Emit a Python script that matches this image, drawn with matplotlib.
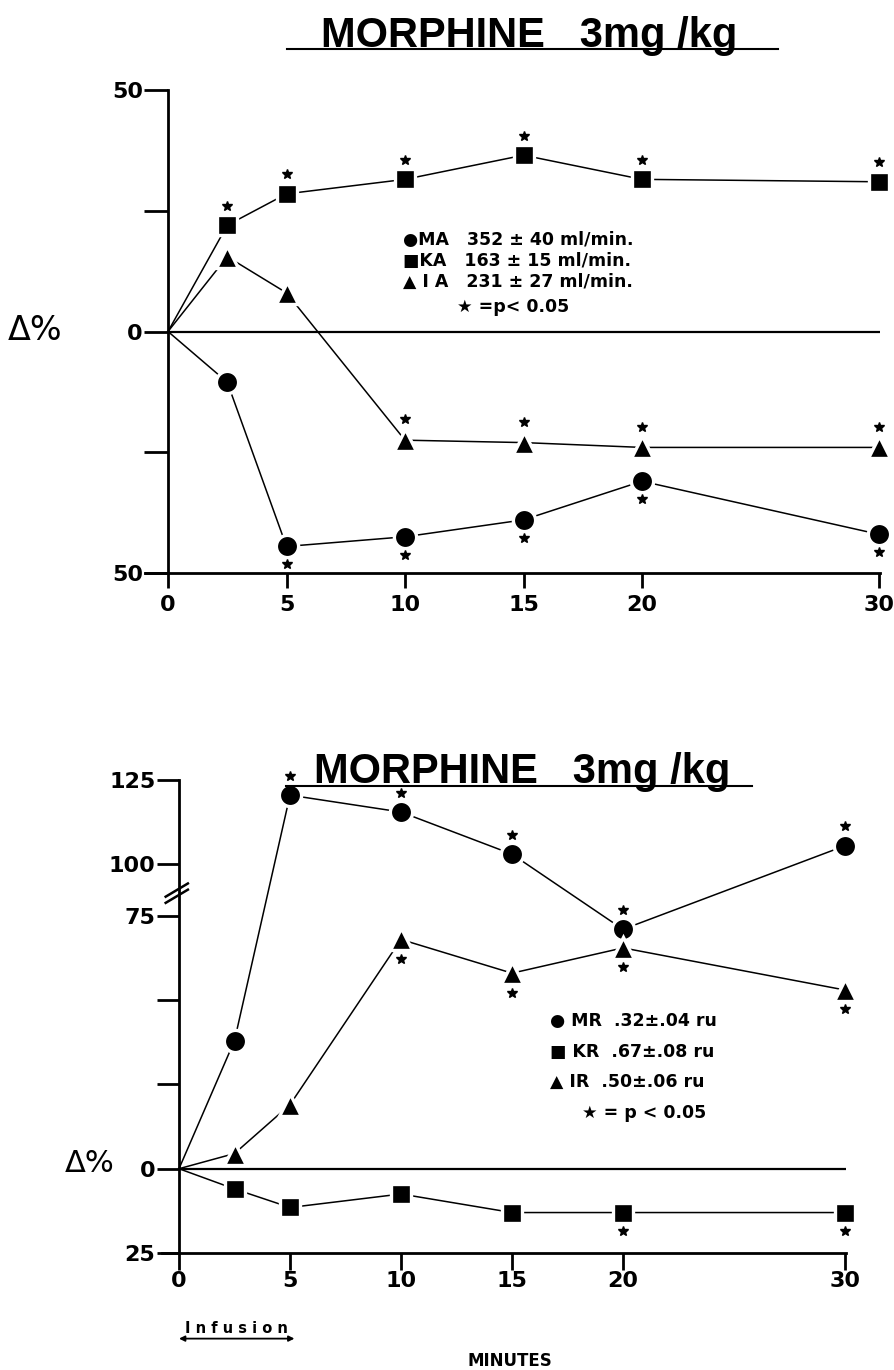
import numpy as np
import matplotlib
matplotlib.use("Agg")
import matplotlib.pyplot as plt
from matplotlib.transforms import offset_copy
from matplotlib.lines import Line2D

plt.rcParams['font.family'] = ['DejaVu Sans']
plt.rcParams['font.weight'] = 'bold'

# ---- data: top panel (arterial flow, % change) ----
t_top = [0, 2.5, 5, 10, 15, 20, 30]
ma_top = [0, -10.5, -44.5, -42.5, -39, -31, -42]
ka_top = [0, 22, 28.5, 31.5, 36.5, 31.5, 31]
ia_top = [0, 15.5, 8, -22.5, -23, -24, -24]
ma_star = [None, None, 'below', 'below', 'below', 'below', 'below']
ka_star = [None, 'above', 'above', 'above', 'above', 'above', 'above']
ia_star = [None, None, None, 'above', 'above', 'above', 'above']

top_legend = ["\u25cfMA   352 \u00b1 40 ml/min.",
              "\u25a0KA   163 \u00b1 15 ml/min.",
              "\u25b2 I A   231 \u00b1 27 ml/min."]

# ---- data: bottom panel (resistance, % change) ----
t_bot = [0, 2.5, 5, 10, 15, 20, 30]
mr_bot = [0, 38, 120.5, 115.5, 103, 71, 105.5]
kr_bot = [0, -6, -11.5, -7.5, -13, -13, -13]
ir_bot = [0, 4.5, 19, 68, 58, 65.5, 53]
mr_star = [None, None, 'above', 'above', 'above', 'above', 'above']
kr_star = [None, None, None, None, None, 'below', 'below']
ir_star = [None, None, None, 'below', 'below', 'below', 'below']

bot_legend = ["\u25cf MR  .32\u00b1.04 ru",
              "\u25a0 KR  .67\u00b1.08 ru",
              "\u25b2 IR  .50\u00b1.06 ru"]

x_ticks = [0, 5, 10, 15, 20, 30]
top_yticks = [-50, -25, 0, 25, 50]
top_ylabels = ['50', '', '0', '', '50']
bot_yticks = [-25, 0, 25, 50, 75, 100, 125]
bot_ylabels = ['25', '0', '', '', '75', '100', '125']

W, H = 894, 1370
fig = plt.figure(figsize=(W / 100, H / 100), dpi=100)


def fx(x):
    return x / W


def fy(y):
    return 1 - y / H


# broken y scale for the bottom panel: 75..100 squeezed
GAP = 15.3


def fwd(v):
    v = np.asarray(v, dtype=float)
    return np.where(v <= 75, v,
                    np.where(v < 100, 75 + (v - 75) * GAP / 25,
                             75 + GAP + (v - 100)))


def inv(u):
    u = np.asarray(u, dtype=float)
    return np.where(u <= 75, u,
                    np.where(u < 75 + GAP, 75 + (u - 75) * 25 / GAP,
                             100 + (u - 75 - GAP)))


def style_axes(ax, ylen, xlen, xpad):
    ax.spines['top'].set_visible(False)
    ax.spines['right'].set_visible(False)
    ax.spines['left'].set_position(('data', 0))
    ax.spines['left'].set_linewidth(2.0)
    ax.spines['bottom'].set_linewidth(2.0)
    ax.tick_params(axis='y', direction='out', length=ylen, width=2.0,
                   labelsize=16, pad=1)
    ax.tick_params(axis='x', direction='out', length=xlen, width=2.0,
                   labelsize=16, pad=xpad)
    ax.set_xticks(x_ticks)
    ax.set_xticklabels([str(v) for v in x_ticks], fontweight='bold')


def draw_series(ax, t, y, marker, ms, stars, dy):
    ax.plot(t, y, color='black', lw=1.1, marker=marker, ms=ms,
            mfc='black', mec='white', mew=2.4, markevery=slice(1, None),
            zorder=3, clip_on=False)
    up = offset_copy(ax.transData, fig=fig, y=dy, units='points')
    dn = offset_copy(ax.transData, fig=fig, y=-dy, units='points')
    for ti, yi, s in zip(t, y, stars):
        if s == 'above':
            ax.plot(ti, yi, marker='*', ms=7.5, color='black', transform=up,
                    zorder=4, clip_on=False)
        elif s == 'below':
            ax.plot(ti, yi, marker='*', ms=7.5, color='black', transform=dn,
                    zorder=4, clip_on=False)


# ================= top panel =================
x0, x30 = 168, 879
ppu = (x30 - x0) / 30
xl, xr = -0.97, 30.05
ax1 = fig.add_axes([fx(x0 + xl * ppu), fy(573), (xr - xl) * ppu / W, (573 - 90) / H])
ax1.set_xlim(xl, xr)
ax1.set_ylim(-50, 50)
style_axes(ax1, 17, 11, 5)
ax1.set_yticks(top_yticks)
ax1.set_yticklabels(top_ylabels, fontweight='bold')
ax1.plot([0, 30], [0, 0], color='black', lw=1.6, zorder=2)

draw_series(ax1, t_top, ka_top, 's', 14, ka_star, 14)
draw_series(ax1, t_top, ia_top, '^', 16, ia_star, 15)
draw_series(ax1, t_top, ma_top, 'o', 16, ma_star, 13)

for i, s in enumerate(top_legend):
    fig.text(fx(403), fy(240 + i * 21), s, fontsize=12.5, fontweight='bold',
             va='center', ha='left')
fig.text(fx(457), fy(307), "\u2605 =p< 0.05", fontsize=12.5, fontweight='bold',
         va='center', ha='left')

fig.text(fx(8), fy(331), "\u0394%", fontsize=24, va='center', ha='left',
         fontweight='normal')

fig.text(fx(529), fy(47), "MORPHINE   3mg /kg", fontsize=30, fontweight='bold',
         family='Liberation Sans', ha='center', va='baseline')
fig.add_artist(Line2D([fx(287), fx(778)], [fy(49), fy(49)], color='black', lw=1.5))

# ================= bottom panel =================
b0, b30 = 179, 845
ppu2 = (b30 - b0) / 30
xl2, xr2 = -0.77, 30.05
ax2 = fig.add_axes([fx(b0 + xl2 * ppu2), fy(1253), (xr2 - xl2) * ppu2 / W, (1253 - 780) / H])
ax2.set_yscale('function', functions=(fwd, inv))
ax2.set_xlim(xl2, xr2)
ax2.set_ylim(-25, 125)
style_axes(ax2, 16, 12, 1)
ax2.set_yticks(bot_yticks)
ax2.set_yticklabels(bot_ylabels, fontweight='bold')
ax2.minorticks_off()
ax2.plot([0, 30], [0, 0], color='black', lw=1.6, zorder=2)

# axis break marks
for yb in [84.5, 87.5]:
    ax2.plot([-0.6, 0.4], [yb - 3.2, yb + 3.2], color='black', lw=1.8,
             clip_on=False, zorder=5)

draw_series(ax2, t_bot, mr_bot, 'o', 16, mr_star, 14)
draw_series(ax2, t_bot, ir_bot, '^', 16, ir_star, 14)
draw_series(ax2, t_bot, kr_bot, 's', 14, kr_star, 13)

for i, s in enumerate(bot_legend):
    fig.text(fx(550), fy(1021 + i * 30.5), s, fontsize=12.5, fontweight='bold',
             va='center', ha='left')
fig.text(fx(582), fy(1113), "\u2605 = p < 0.05", fontsize=12.5, fontweight='bold',
         va='center', ha='left')

fig.text(fx(90), fy(1164), "\u0394%", fontsize=22, va='center', ha='center',
         fontweight='normal')

fig.text(fx(522), fy(783), "MORPHINE   3mg /kg", fontsize=30, fontweight='bold',
         family='Liberation Sans', ha='center', va='baseline')
fig.add_artist(Line2D([fx(286), fx(752)], [fy(786), fy(786)], color='black', lw=1.5))

# infusion arrow and x label
ax2.annotate('', xy=(0, -0.181), xytext=(5.2, -0.181),
             xycoords=('data', 'axes fraction'), textcoords=('data', 'axes fraction'),
             arrowprops=dict(arrowstyle='<|-|>', color='black', lw=1.3,
                             mutation_scale=8, shrinkA=0, shrinkB=0))
ax2.text(2.6, -0.175, "I n f u s i o n", transform=ax2.get_xaxis_transform(),
         ha='center', va='bottom', fontsize=10.5, fontweight='bold')
fig.text(fx(510), fy(1361), "MINUTES", fontsize=12, fontweight='bold',
         ha='center', va='center')

fig.savefig("out.png", dpi=100)
